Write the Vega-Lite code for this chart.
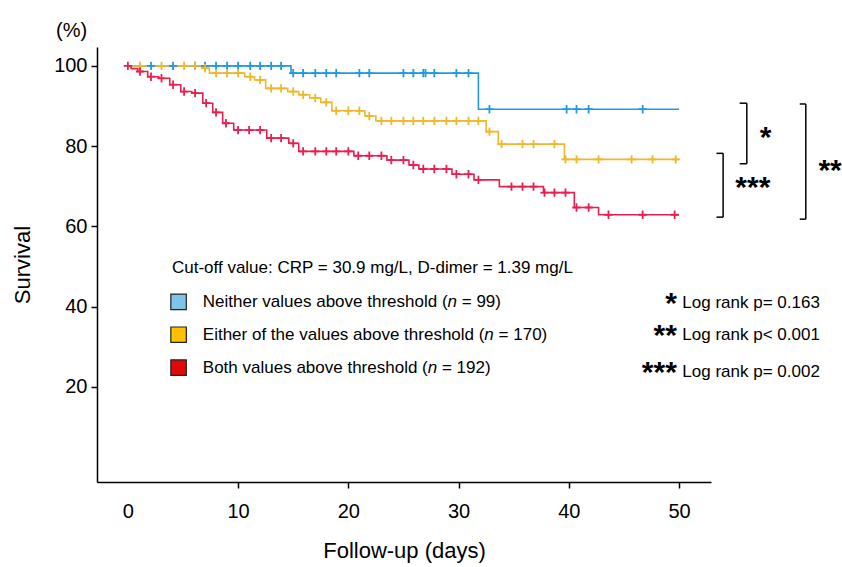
{
  "$schema": "https://vega.github.io/schema/vega-lite/v6.json",
  "autosize": {"type": "none"},
  "width": 614,
  "height": 435,
  "padding": {"left": 97, "top": 47, "right": 131, "bottom": 85},
  "background": "white",
  "config": {
    "view": {"stroke": null},
    "font": "Liberation Sans",
    "axis": {
      "grid": false,
      "domainColor": "black",
      "domainWidth": 1.5,
      "tickColor": "black",
      "tickWidth": 1.5,
      "tickSize": 6,
      "labelFont": "Liberation Sans",
      "labelFontSize": 20,
      "labelColor": "black",
      "titleFont": "Liberation Sans",
      "titleFontSize": 22,
      "titleFontWeight": "normal",
      "titleColor": "black"
    }
  },
  "datasets": {
    "steps": [
      {"group": "Neither", "day": 0, "surv": 100},
      {"group": "Neither", "day": 14.8, "surv": 98.2},
      {"group": "Neither", "day": 31.8, "surv": 89.2},
      {"group": "Neither", "day": 50, "surv": 89.2},
      {"group": "Either", "day": 0, "surv": 100},
      {"group": "Either", "day": 6.7, "surv": 99.4},
      {"group": "Either", "day": 7.4, "surv": 98.2},
      {"group": "Either", "day": 10.6, "surv": 97.3},
      {"group": "Either", "day": 11.5, "surv": 96.5},
      {"group": "Either", "day": 12.5, "surv": 94.4},
      {"group": "Either", "day": 14.5, "surv": 93.6},
      {"group": "Either", "day": 15.5, "surv": 92.8},
      {"group": "Either", "day": 16.5, "surv": 92.0},
      {"group": "Either", "day": 17.5, "surv": 90.9},
      {"group": "Either", "day": 18.5, "surv": 88.8},
      {"group": "Either", "day": 21.5, "surv": 87.5},
      {"group": "Either", "day": 22.5, "surv": 86.3},
      {"group": "Either", "day": 32.5, "surv": 83.6},
      {"group": "Either", "day": 33.6, "surv": 80.5},
      {"group": "Either", "day": 39.6, "surv": 76.7},
      {"group": "Either", "day": 50, "surv": 76.7},
      {"group": "Both", "day": 0, "surv": 100},
      {"group": "Both", "day": 0.3, "surv": 99.3},
      {"group": "Both", "day": 0.9, "surv": 98.6},
      {"group": "Both", "day": 1.8, "surv": 97.3},
      {"group": "Both", "day": 2.8, "surv": 96.9},
      {"group": "Both", "day": 3.8, "surv": 95.3},
      {"group": "Both", "day": 4.8, "surv": 93.6},
      {"group": "Both", "day": 5.8, "surv": 93.2},
      {"group": "Both", "day": 6.8, "surv": 90.7},
      {"group": "Both", "day": 7.7, "surv": 88.4},
      {"group": "Both", "day": 8.6, "surv": 85.7},
      {"group": "Both", "day": 9.6, "surv": 84.0},
      {"group": "Both", "day": 12.6, "surv": 82.0},
      {"group": "Both", "day": 14.6, "surv": 80.7},
      {"group": "Both", "day": 15.5, "surv": 78.7},
      {"group": "Both", "day": 20.5, "surv": 77.6},
      {"group": "Both", "day": 23.5, "surv": 76.5},
      {"group": "Both", "day": 25.5, "surv": 75.3},
      {"group": "Both", "day": 26.4, "surv": 74.3},
      {"group": "Both", "day": 29.4, "surv": 73.0},
      {"group": "Both", "day": 31.4, "surv": 71.6},
      {"group": "Both", "day": 33.7, "surv": 69.9},
      {"group": "Both", "day": 37.7, "surv": 68.4},
      {"group": "Both", "day": 40.5, "surv": 64.7},
      {"group": "Both", "day": 42.7, "surv": 62.9},
      {"group": "Both", "day": 50, "surv": 62.9}
    ],
    "censor": [
      {"group": "Neither", "day": 2.1, "surv": 100},
      {"group": "Neither", "day": 4.1, "surv": 100},
      {"group": "Neither", "day": 6.1, "surv": 100},
      {"group": "Neither", "day": 7.0, "surv": 100},
      {"group": "Neither", "day": 8.0, "surv": 100},
      {"group": "Neither", "day": 9.0, "surv": 100},
      {"group": "Neither", "day": 10.0, "surv": 100},
      {"group": "Neither", "day": 11.1, "surv": 100},
      {"group": "Neither", "day": 12.0, "surv": 100},
      {"group": "Neither", "day": 13.0, "surv": 100},
      {"group": "Neither", "day": 13.9, "surv": 100},
      {"group": "Neither", "day": 15.0, "surv": 98.2},
      {"group": "Neither", "day": 15.9, "surv": 98.2},
      {"group": "Neither", "day": 17.0, "surv": 98.2},
      {"group": "Neither", "day": 18.0, "surv": 98.2},
      {"group": "Neither", "day": 18.9, "surv": 98.2},
      {"group": "Neither", "day": 21.0, "surv": 98.2},
      {"group": "Neither", "day": 21.9, "surv": 98.2},
      {"group": "Neither", "day": 25.0, "surv": 98.2},
      {"group": "Neither", "day": 25.9, "surv": 98.2},
      {"group": "Neither", "day": 26.8, "surv": 98.2},
      {"group": "Neither", "day": 27.0, "surv": 98.2},
      {"group": "Neither", "day": 27.8, "surv": 98.2},
      {"group": "Neither", "day": 29.8, "surv": 98.2},
      {"group": "Neither", "day": 30.9, "surv": 98.2},
      {"group": "Neither", "day": 32.8, "surv": 89.2},
      {"group": "Neither", "day": 39.8, "surv": 89.2},
      {"group": "Neither", "day": 40.7, "surv": 89.2},
      {"group": "Neither", "day": 41.8, "surv": 89.2},
      {"group": "Neither", "day": 46.7, "surv": 89.2},
      {"group": "Either", "day": 1.1, "surv": 100},
      {"group": "Either", "day": 3.05, "surv": 100},
      {"group": "Either", "day": 5.1, "surv": 100},
      {"group": "Either", "day": 6.1, "surv": 100},
      {"group": "Either", "day": 7.0, "surv": 99.4},
      {"group": "Either", "day": 8.0, "surv": 98.2},
      {"group": "Either", "day": 9.0, "surv": 98.2},
      {"group": "Either", "day": 10.0, "surv": 98.2},
      {"group": "Either", "day": 11.1, "surv": 97.3},
      {"group": "Either", "day": 12.0, "surv": 96.5},
      {"group": "Either", "day": 13.0, "surv": 94.4},
      {"group": "Either", "day": 13.9, "surv": 94.4},
      {"group": "Either", "day": 15.0, "surv": 93.6},
      {"group": "Either", "day": 15.9, "surv": 92.8},
      {"group": "Either", "day": 17.0, "surv": 92.0},
      {"group": "Either", "day": 18.0, "surv": 90.9},
      {"group": "Either", "day": 18.9, "surv": 88.8},
      {"group": "Either", "day": 20.0, "surv": 88.8},
      {"group": "Either", "day": 21.0, "surv": 88.8},
      {"group": "Either", "day": 21.9, "surv": 87.5},
      {"group": "Either", "day": 23.0, "surv": 86.3},
      {"group": "Either", "day": 23.9, "surv": 86.3},
      {"group": "Either", "day": 25.0, "surv": 86.3},
      {"group": "Either", "day": 25.9, "surv": 86.3},
      {"group": "Either", "day": 26.8, "surv": 86.3},
      {"group": "Either", "day": 27.8, "surv": 86.3},
      {"group": "Either", "day": 28.9, "surv": 86.3},
      {"group": "Either", "day": 29.8, "surv": 86.3},
      {"group": "Either", "day": 30.9, "surv": 86.3},
      {"group": "Either", "day": 31.8, "surv": 86.3},
      {"group": "Either", "day": 32.8, "surv": 83.6},
      {"group": "Either", "day": 33.9, "surv": 80.5},
      {"group": "Either", "day": 35.8, "surv": 80.5},
      {"group": "Either", "day": 36.8, "surv": 80.5},
      {"group": "Either", "day": 38.7, "surv": 80.5},
      {"group": "Either", "day": 39.7, "surv": 76.7},
      {"group": "Either", "day": 40.7, "surv": 76.7},
      {"group": "Either", "day": 42.7, "surv": 76.7},
      {"group": "Either", "day": 45.7, "surv": 76.7},
      {"group": "Either", "day": 47.6, "surv": 76.7},
      {"group": "Either", "day": 49.7, "surv": 76.7},
      {"group": "Both", "day": 0, "surv": 100},
      {"group": "Both", "day": 1.1, "surv": 98.6},
      {"group": "Both", "day": 2.1, "surv": 97.3},
      {"group": "Both", "day": 3.05, "surv": 96.9},
      {"group": "Both", "day": 4.1, "surv": 95.3},
      {"group": "Both", "day": 5.1, "surv": 93.6},
      {"group": "Both", "day": 6.1, "surv": 93.2},
      {"group": "Both", "day": 7.1, "surv": 90.7},
      {"group": "Both", "day": 8.0, "surv": 88.4},
      {"group": "Both", "day": 8.9, "surv": 85.7},
      {"group": "Both", "day": 10.0, "surv": 84.0},
      {"group": "Both", "day": 11.0, "surv": 84.0},
      {"group": "Both", "day": 12.0, "surv": 84.0},
      {"group": "Both", "day": 13.0, "surv": 82.0},
      {"group": "Both", "day": 13.9, "surv": 82.0},
      {"group": "Both", "day": 15.0, "surv": 80.7},
      {"group": "Both", "day": 15.9, "surv": 78.7},
      {"group": "Both", "day": 17.0, "surv": 78.7},
      {"group": "Both", "day": 18.0, "surv": 78.7},
      {"group": "Both", "day": 18.9, "surv": 78.7},
      {"group": "Both", "day": 20.0, "surv": 78.7},
      {"group": "Both", "day": 20.9, "surv": 77.6},
      {"group": "Both", "day": 21.9, "surv": 77.6},
      {"group": "Both", "day": 23.0, "surv": 77.6},
      {"group": "Both", "day": 23.9, "surv": 76.5},
      {"group": "Both", "day": 25.0, "surv": 76.5},
      {"group": "Both", "day": 25.9, "surv": 75.3},
      {"group": "Both", "day": 26.8, "surv": 74.3},
      {"group": "Both", "day": 27.8, "surv": 74.3},
      {"group": "Both", "day": 28.9, "surv": 74.3},
      {"group": "Both", "day": 29.8, "surv": 73.0},
      {"group": "Both", "day": 30.9, "surv": 73.0},
      {"group": "Both", "day": 31.8, "surv": 71.6},
      {"group": "Both", "day": 34.8, "surv": 69.9},
      {"group": "Both", "day": 35.8, "surv": 69.9},
      {"group": "Both", "day": 36.8, "surv": 69.9},
      {"group": "Both", "day": 37.8, "surv": 68.4},
      {"group": "Both", "day": 38.7, "surv": 68.4},
      {"group": "Both", "day": 39.7, "surv": 68.4},
      {"group": "Both", "day": 40.7, "surv": 64.7},
      {"group": "Both", "day": 41.8, "surv": 64.7},
      {"group": "Both", "day": 43.6, "surv": 62.9},
      {"group": "Both", "day": 46.7, "surv": 62.9},
      {"group": "Both", "day": 49.6, "surv": 62.9}
    ],
    "brackets": [
      {"day": 55.5, "day2": 56.15, "surv": 90.7, "surv2": 90.7},
      {"day": 56.15, "day2": 56.15, "surv": 90.7, "surv2": 75.6},
      {"day": 55.5, "day2": 56.15, "surv": 75.6, "surv2": 75.6},
      {"day": 53.4, "day2": 54.0, "surv": 78.2, "surv2": 78.2},
      {"day": 54.0, "day2": 54.0, "surv": 78.2, "surv2": 62.3},
      {"day": 53.4, "day2": 54.0, "surv": 62.3, "surv2": 62.3},
      {"day": 60.95, "day2": 61.5, "surv": 90.5, "surv2": 90.5},
      {"day": 61.5, "day2": 61.5, "surv": 90.5, "surv2": 61.8},
      {"day": 60.95, "day2": 61.5, "surv": 61.8, "surv2": 61.8}
    ],
    "boxes": [
      {"group": "Neither", "day": 4.6, "surv": 41.2},
      {"group": "Either", "day": 4.6, "surv": 33.0},
      {"group": "Both", "day": 4.6, "surv": 24.8}
    ],
    "plainText": [
      {"day": 4.0, "surv": 49.7, "label": "Cut-off value: CRP = 30.9 mg/L, D-dimer = 1.39 mg/L"},
      {"day": 6.8, "surv": 41.2, "label": "Neither values above threshold ("},
      {"day": 30.29, "surv": 41.2, "label": "= 99)"},
      {"day": 6.8, "surv": 33.0, "label": "Either of the values above threshold ("},
      {"day": 33.63, "surv": 33.0, "label": "= 170)"},
      {"day": 6.8, "surv": 24.8, "label": "Both values above threshold ("},
      {"day": 28.49, "surv": 24.8, "label": "= 192)"},
      {"day": 50.3, "surv": 40.9, "label": "Log rank p= 0.163"},
      {"day": 50.3, "surv": 33.0, "label": "Log rank p< 0.001"},
      {"day": 50.3, "surv": 23.7, "label": "Log rank p= 0.002"}
    ],
    "italicText": [
      {"day": 29.0, "surv": 41.2, "label": "n"},
      {"day": 32.34, "surv": 33.0, "label": "n"},
      {"day": 27.2, "surv": 24.8, "label": "n"}
    ],
    "stars": [
      {"day": 49.8, "surv": 40.9, "label": "*"},
      {"day": 49.8, "surv": 33.0, "label": "**"},
      {"day": 49.8, "surv": 23.7, "label": "***"}
    ],
    "bracketStars": [
      {"day": 57.85, "surv": 82.3, "label": "*"},
      {"day": 56.7, "surv": 69.9, "label": "***"},
      {"day": 63.7, "surv": 74.1, "label": "**"}
    ],
    "unit": [
      {"day": -5.1, "surv": 108.8, "label": "(%)"}
    ]
  },
  "layer": [
    {
      "data": {"name": "steps"},
      "mark": {"type": "line", "interpolate": "step-after", "strokeWidth": 1.6},
      "encoding": {
        "x": {"field": "day", "type": "quantitative",
              "scale": {"domain": [-2.8, 52.9], "nice": false, "zero": false},
              "axis": {"title": "Follow-up (days)", "values": [0, 10, 20, 30, 40, 50],
                       "labelPadding": 13, "titlePadding": 19,
                       "tickColor": {"condition": {"test": "datum.value === 0", "value": "transparent"}, "value": "black"}}},
        "y": {"field": "surv", "type": "quantitative",
              "scale": {"domain": [-3.7, 104.7], "nice": false, "zero": false},
              "axis": {"title": "Survival", "values": [20, 40, 60, 80, 100], "labelPadding": 4, "titlePadding": 19}},
        "stroke": {"field": "group", "type": "nominal",
                   "scale": {"domain": ["Neither", "Either", "Both"], "range": ["#1E9BE0", "#EFB72B", "#E8204F"]},
                   "legend": null}
      }
    },
    {
      "data": {"name": "censor"},
      "mark": {"type": "point", "shape": "M-1,0L1,0M0,-1L0,1", "filled": false, "size": 70, "strokeWidth": 1.8, "opacity": 1},
      "encoding": {
        "x": {"field": "day", "type": "quantitative"},
        "y": {"field": "surv", "type": "quantitative"},
        "stroke": {"field": "group", "type": "nominal", "legend": null}
      }
    },
    {
      "data": {"name": "brackets"},
      "mark": {"type": "rule", "color": "black", "strokeWidth": 1.5},
      "encoding": {
        "x": {"field": "day", "type": "quantitative"},
        "x2": {"field": "day2"},
        "y": {"field": "surv", "type": "quantitative"},
        "y2": {"field": "surv2"}
      }
    },
    {
      "data": {"name": "boxes"},
      "mark": {"type": "square", "size": 240, "filled": true, "stroke": "#222222", "strokeWidth": 1.2, "opacity": 1},
      "encoding": {
        "x": {"field": "day", "type": "quantitative"},
        "y": {"field": "surv", "type": "quantitative"},
        "fill": {"field": "group", "type": "nominal",
                 "scale": {"domain": ["Neither", "Either", "Both"], "range": ["#7EC3EA", "#FFC000", "#E00A0A"]},
                 "legend": null}
      }
    },
    {
      "data": {"name": "plainText"},
      "mark": {"type": "text", "align": "left", "baseline": "middle", "fontSize": 17, "color": "black", "font": "Liberation Sans"},
      "encoding": {
        "x": {"field": "day", "type": "quantitative"},
        "y": {"field": "surv", "type": "quantitative"},
        "text": {"field": "label"}
      }
    },
    {
      "data": {"name": "italicText"},
      "mark": {"type": "text", "align": "left", "baseline": "middle", "fontSize": 17, "fontStyle": "italic", "color": "black", "font": "Liberation Sans"},
      "encoding": {
        "x": {"field": "day", "type": "quantitative"},
        "y": {"field": "surv", "type": "quantitative"},
        "text": {"field": "label"}
      }
    },
    {
      "data": {"name": "stars"},
      "mark": {"type": "text", "align": "right", "baseline": "alphabetic", "dy": 10, "fontSize": 30, "fontWeight": "bold", "color": "black", "font": "Liberation Sans"},
      "encoding": {
        "x": {"field": "day", "type": "quantitative"},
        "y": {"field": "surv", "type": "quantitative"},
        "text": {"field": "label"}
      }
    },
    {
      "data": {"name": "bracketStars"},
      "mark": {"type": "text", "align": "center", "baseline": "alphabetic", "dy": 10, "fontSize": 30, "fontWeight": "bold", "color": "black", "font": "Liberation Sans"},
      "encoding": {
        "x": {"field": "day", "type": "quantitative"},
        "y": {"field": "surv", "type": "quantitative"},
        "text": {"field": "label"}
      }
    },
    {
      "data": {"name": "unit"},
      "mark": {"type": "text", "align": "center", "baseline": "middle", "fontSize": 20, "color": "black", "font": "Liberation Sans"},
      "encoding": {
        "x": {"field": "day", "type": "quantitative"},
        "y": {"field": "surv", "type": "quantitative"},
        "text": {"field": "label"}
      }
    }
  ]
}
